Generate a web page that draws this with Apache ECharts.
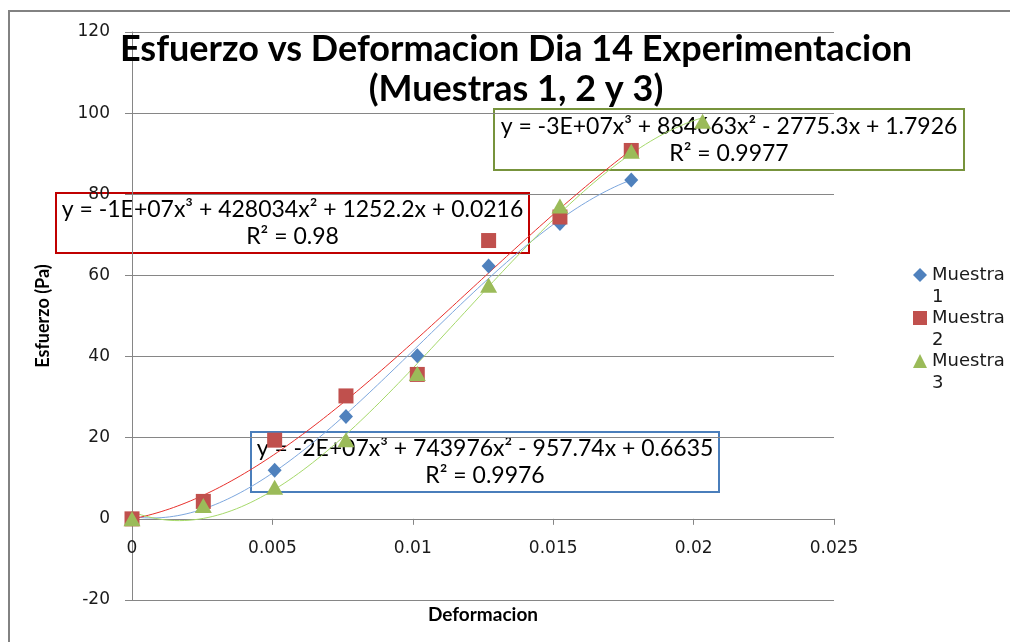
<!DOCTYPE html>
<html>
<head>
<meta charset="utf-8">
<script src="https://cdn.jsdelivr.net/npm/echarts@6/dist/echarts.min.js"></script>
<style>html,body{margin:0;padding:0;background:#fff;}#c{width:1010px;height:642px;}</style>
</head>
<body>
<div id="c"></div>
<script>
// ---- data ----
const deformacion = [0, 0.00254, 0.00508, 0.00762, 0.01016, 0.0127, 0.01524, 0.01778, 0.02032];
const muestra1 = [0, 3.5, 12.0, 25.2, 40.2, 62.3, 72.8, 83.5];
const muestra2 = [0, 4.3, 19.4, 30.3, 35.6, 68.6, 74.4, 90.8];
const muestra3 = [0, 3.3, 7.8, 19.5, 35.8, 57.6, 77.1, 90.6, 98.0];
const seriesNames = ['Muestra\n1', 'Muestra\n2', 'Muestra\n3'];
const xTicks = [0, 0.005, 0.01, 0.015, 0.02, 0.025];
const yTicks = [-20, 0, 20, 40, 60, 80, 100, 120];
const eq1 = ['y = -2E+07x³ + 743976x² - 957.74x + 0.6635', 'R² = 0.9976'];
const eq2 = ['y = -1E+07x³ + 428034x² + 1252.2x + 0.0216', 'R² = 0.98'];
const eq3 = ['y = -3E+07x³ + 884663x² - 2775.3x + 1.7926', 'R² = 0.9977'];
const titleText = 'Esfuerzo vs Deformacion Dia 14 Experimentacion\n(Muestras 1, 2 y 3)';

// ---- cubic least-squares trendline (as Excel does) ----
function polyfit3(xs, ys) {
  const n = 4, s = 100; // scale x for conditioning
  const A = Array.from({length: n}, () => new Array(n + 1).fill(0));
  for (let k = 0; k < ys.length; k++) {
    const t = xs[k] * s;
    const p = [1, t, t * t, t * t * t];
    for (let i = 0; i < n; i++) {
      for (let j = 0; j < n; j++) A[i][j] += p[i] * p[j];
      A[i][n] += p[i] * ys[k];
    }
  }
  for (let c = 0; c < n; c++) {
    let piv = c;
    for (let r = c + 1; r < n; r++) if (Math.abs(A[r][c]) > Math.abs(A[piv][c])) piv = r;
    [A[c], A[piv]] = [A[piv], A[c]];
    for (let r = 0; r < n; r++) {
      if (r === c) continue;
      const f = A[r][c] / A[c][c];
      for (let k = c; k <= n; k++) A[r][k] -= f * A[c][k];
    }
  }
  const coef = A.map((row, i) => row[n] / row[i]);
  return x => { const t = x * s; return coef[0] + coef[1] * t + coef[2] * t * t + coef[3] * t * t * t; };
}
function trend(ys) {
  const f = polyfit3(deformacion, ys);
  const xMax = deformacion[ys.length - 1];
  const out = [];
  for (let i = 0; i <= 120; i++) { const x = xMax * i / 120; out.push([x, f(x)]); }
  return out;
}
const pts = ys => ys.map((v, i) => [deformacion[i], v]);

const colors = ['#4f81bd', '#c0504d', '#9bbb59'];
const trendColors = ['#7da7de', '#e8302c', '#a6d96a'];
const symbols = ['diamond', 'rect', 'triangle'];
const symSizes = [[14, 15], [15, 15], [17, 15]];
const allY = [muestra1, muestra2, muestra3];

const series = [];
allY.forEach((ys, i) => {
  series.push({
    type: 'line', data: trend(ys), showSymbol: false, silent: true, z: 1,
    lineStyle: {color: trendColors[i], width: 1}, itemStyle: {color: trendColors[i]}
  });
});
allY.forEach((ys, i) => {
  series.push({
    name: seriesNames[i], type: 'scatter', data: pts(ys), z: 3,
    symbol: symbols[i], symbolSize: symSizes[i], itemStyle: {color: colors[i], opacity: 1}
  });
});

function eqBox(lines, x, y, w, h, color) {
  return {
    type: 'group', left: x, top: y, z: 100,
    children: [
      {type: 'rect', shape: {x: 0, y: 0, width: w, height: h}, style: {fill: 'rgba(0,0,0,0)', stroke: color, lineWidth: 2}},
      {type: 'text', x: w / 2, y: h / 2 - 13, style: {text: lines[0], font: '23px Lato', fill: '#000', align: 'center', verticalAlign: 'middle'}},
      {type: 'text', x: w / 2, y: h / 2 + 14, style: {text: lines[1], font: '23px Lato', fill: '#000', align: 'center', verticalAlign: 'middle'}}
    ]
  };
}

const chart = echarts.init(document.getElementById('c'), null, {renderer: 'canvas'});
chart.setOption({
  animation: false,
  backgroundColor: '#fff',
  title: {
    text: titleText, left: 511, top: 24, textAlign: 'center', z: 50,
    textStyle: {fontFamily: 'Lato', fontWeight: 'bold', fontSize: 36, lineHeight: 40, color: '#000'}
  },
  grid: {left: 132, right: 176, top: 32, bottom: 42, containLabel: false, outerBoundsMode: 'none'},
  legend: {
    data: seriesNames, orient: 'vertical', left: 908, top: 237, itemGap: -23,
    itemWidth: 14, itemHeight: 14,
    formatter: name => '\n' + name,
    textStyle: {fontFamily: 'DejaVu Sans', fontSize: 18, lineHeight: 22, color: '#1a1a1a'}
  },
  xAxis: {
    type: 'value', min: xTicks[0], max: xTicks[xTicks.length - 1], interval: xTicks[1] - xTicks[0],
    name: 'Deformacion', nameLocation: 'middle', nameGap: 5,
    nameTextStyle: {fontFamily: 'Lato', fontWeight: 'bold', fontSize: 19, color: '#000'},
    axisLine: {onZero: true, lineStyle: {color: '#868686', width: 1}},
    axisTick: {show: true, inside: false, length: 6, lineStyle: {color: '#868686'}},
    axisLabel: {margin: -60, fontFamily: 'DejaVu Sans', fontSize: 17, color: '#1a1a1a',
      formatter: v => String(+v.toFixed(3))},
    splitLine: {show: false}
  },
  yAxis: {
    type: 'value', min: yTicks[0], max: yTicks[yTicks.length - 1], interval: yTicks[1] - yTicks[0],
    name: 'Esfuerzo (Pa)', nameLocation: 'middle', nameGap: 80,
    nameTextStyle: {fontFamily: 'Lato', fontWeight: 'bold', fontSize: 18, color: '#000'},
    axisLine: {show: true, onZero: false, lineStyle: {color: '#868686', width: 1}},
    axisTick: {show: true, inside: false, length: 7, lineStyle: {color: '#868686'}},
    axisLabel: {margin: 22, fontFamily: 'DejaVu Sans', fontSize: 17, color: '#1a1a1a'},
    splitLine: {show: true, lineStyle: {color: '#868686', width: 1}}
  },
  series: series,
  graphic: [
    {type: 'polyline', z: 100, silent: true, shape: {points: [[9, 642], [9, 11], [1010, 11]]}, style: {stroke: '#828282', lineWidth: 2, fill: null}},
    eqBox(eq2, 55, 192, 473, 60, '#c00000'),
    eqBox(eq3, 493, 108, 470, 61, '#77933c'),
    eqBox(eq1, 250, 431, 468, 60, '#4a7ebb')
  ]
});
</script>
</body>
</html>
